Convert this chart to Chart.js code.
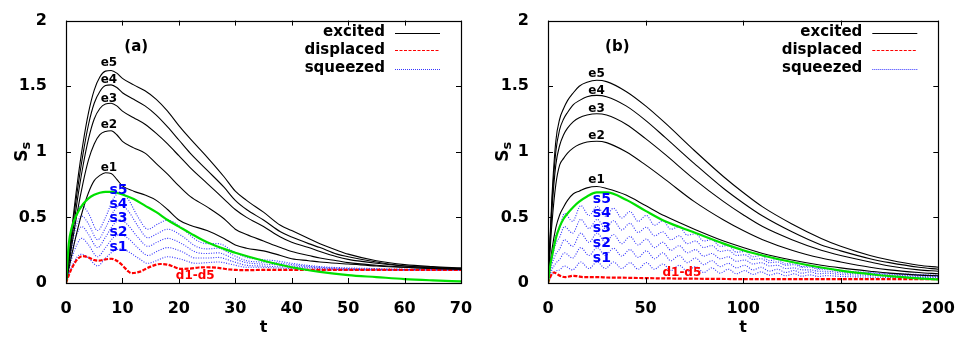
<!DOCTYPE html>
<html>
<head>
<meta charset="utf-8">
<script src="https://cdn.jsdelivr.net/npm/chart.js@4/dist/chart.umd.min.js"></script>
<style>
  body { margin: 0; background: #fff; }
  canvas { position: absolute; top: 0; }
</style>
</head>
<body>
<canvas id="chartA" width="481" height="338" style="left:0"></canvas>
<canvas id="chartB" width="482" height="338" style="left:481px"></canvas>
<script>
// ---- panel (a) ----
const tExcA = [0,1,2,3,4,5,6,7,8,9,10,12,14,16,18,20,22,25,28,30,32,35,38,40,43,45,48,50,55,60,65,70];
const e5A = [0,0.40,0.76,1.06,1.30,1.47,1.57,1.615,1.62,1.60,1.56,1.51,1.465,1.40,1.31,1.20,1.10,0.96,0.81,0.70,0.63,0.54,0.44,0.40,0.34,0.30,0.25,0.22,0.17,0.14,0.125,0.115];
const e4A = [0,0.37,0.70,0.98,1.21,1.37,1.46,1.505,1.51,1.49,1.45,1.40,1.35,1.28,1.19,1.09,0.99,0.86,0.73,0.63,0.56,0.48,0.39,0.35,0.30,0.27,0.22,0.20,0.16,0.13,0.12,0.11];
const e3A = [0,0.33,0.63,0.89,1.10,1.25,1.33,1.365,1.37,1.35,1.31,1.26,1.21,1.14,1.06,0.97,0.88,0.76,0.64,0.56,0.50,0.43,0.35,0.31,0.27,0.24,0.20,0.18,0.15,0.13,0.115,0.11];
const e2A = [0,0.28,0.54,0.76,0.94,1.06,1.13,1.155,1.16,1.13,1.08,1.03,0.99,0.91,0.83,0.74,0.66,0.58,0.49,0.41,0.37,0.32,0.27,0.24,0.21,0.19,0.17,0.155,0.135,0.12,0.11,0.105];
const e1A = [0,0.21,0.40,0.56,0.69,0.78,0.82,0.84,0.835,0.79,0.74,0.70,0.67,0.63,0.56,0.48,0.44,0.40,0.34,0.29,0.265,0.245,0.21,0.185,0.17,0.16,0.15,0.145,0.13,0.12,0.11,0.105];

const tGreenA = [0,0.5,1,2,3,4,5,6,7,8,9,10,12,14,16,18,20,22,25,28,30,35,40,45,50,55,60,65,70];
const greenA = [0,0.30,0.42,0.53,0.60,0.645,0.672,0.688,0.695,0.695,0.688,0.675,0.64,0.59,0.54,0.48,0.43,0.38,0.31,0.26,0.23,0.17,0.12,0.085,0.06,0.045,0.03,0.02,0.012];

const tDispA = [0,0.5,1,2,3,4,5,5.8,7,8,9,10,11,11.6,13,14,15,16.7,18,19,20.3,22,23.5,25,27,29,30,32,35,40,45,50,60,70];
const dispA = [0,0.06,0.11,0.18,0.205,0.195,0.175,0.17,0.18,0.185,0.17,0.135,0.09,0.075,0.085,0.105,0.125,0.145,0.14,0.125,0.108,0.11,0.118,0.12,0.115,0.103,0.1,0.098,0.1,0.1,0.1,0.1,0.1,0.1];

const tSqA = [0,1,2,2.8,4,5.6,7,8.5,9.7,11,12.8,14.5,16.3,18,20.5,23,25,27,29.5,32,34.5,37,40,45,50,55,60,70];
const s5A = [0,0.33,0.54,0.59,0.53,0.40,0.50,0.65,0.69,0.64,0.50,0.41,0.45,0.48,0.42,0.33,0.30,0.30,0.245,0.195,0.18,0.17,0.15,0.125,0.115,0.11,0.105,0.1];
const s4A = [0,0.28,0.46,0.51,0.45,0.33,0.42,0.55,0.59,0.55,0.43,0.345,0.38,0.41,0.36,0.28,0.26,0.265,0.215,0.17,0.16,0.155,0.14,0.12,0.11,0.105,0.1,0.1];
const s3A = [0,0.23,0.38,0.43,0.37,0.27,0.35,0.45,0.48,0.44,0.345,0.28,0.315,0.34,0.30,0.235,0.225,0.23,0.19,0.155,0.145,0.14,0.13,0.115,0.105,0.1,0.1,0.1];
const s2A = [0,0.18,0.30,0.34,0.29,0.20,0.27,0.35,0.37,0.34,0.265,0.21,0.245,0.27,0.24,0.19,0.19,0.195,0.165,0.135,0.13,0.125,0.12,0.11,0.1,0.1,0.1,0.1];
const s1A = [0,0.12,0.20,0.22,0.19,0.13,0.19,0.245,0.26,0.24,0.19,0.15,0.175,0.2,0.18,0.15,0.155,0.16,0.14,0.12,0.12,0.115,0.11,0.1,0.1,0.1,0.1,0.1];

// ---- panel (b) ----
const tExcB = [0,2,4,6,8,10,13,16,20,25,30,40,50,60,75,90,100,110,125,140,150,165,175,190,200];
const e5B = [0,0.65,1.08,1.25,1.33,1.39,1.45,1.50,1.53,1.545,1.535,1.46,1.35,1.22,1.01,0.81,0.69,0.58,0.45,0.34,0.28,0.21,0.175,0.135,0.12];
const e4B = [0,0.6,1.0,1.17,1.25,1.3,1.36,1.39,1.42,1.43,1.42,1.35,1.24,1.11,0.91,0.72,0.61,0.51,0.39,0.29,0.245,0.185,0.155,0.12,0.105];
const e3B = [0,0.55,0.9,1.05,1.13,1.18,1.23,1.26,1.28,1.29,1.28,1.21,1.1,0.98,0.79,0.62,0.52,0.43,0.33,0.25,0.21,0.16,0.13,0.1,0.09];
const e2B = [0,0.45,0.75,0.9,0.95,0.99,1.03,1.055,1.075,1.08,1.07,1.0,0.9,0.79,0.62,0.48,0.4,0.33,0.25,0.19,0.16,0.12,0.1,0.08,0.07];
const e1B = [0,0.25,0.42,0.52,0.58,0.63,0.68,0.70,0.725,0.735,0.72,0.67,0.59,0.51,0.41,0.32,0.27,0.225,0.175,0.135,0.115,0.09,0.075,0.06,0.055];

const tGreenB = [0,1,2,4,6,8,10,13,16,20,25,30,40,50,60,75,90,100,110,125,140,150,165,175,190,200];
const greenB = [0,0.12,0.2,0.34,0.43,0.49,0.53,0.58,0.62,0.66,0.69,0.69,0.635,0.55,0.47,0.385,0.3,0.25,0.21,0.16,0.118,0.095,0.068,0.052,0.035,0.027];

const tDispB = [0,1,2,3,4,5,7,9,11,13,15,18,22,26,30,40,50,60,80,100,150,200];
const dispB = [0,0.04,0.07,0.08,0.075,0.065,0.05,0.045,0.05,0.055,0.052,0.045,0.045,0.045,0.042,0.04,0.037,0.035,0.032,0.03,0.03,0.03];

const tSqB = [0,2,4,6,8.4,12.6,16.8,21,25.2,29.4,33.6,37.8,42,46.2,50.4,54.6,58.8,63,67.2,71.4,75.6,79.8,84,88.2,92.4,96.6,100.8,105,109.2,113.4,117.6,121.8,126,130.2,134.4,138.6,142.8,150,165,180,200];
const s5B = [0,0.22,0.36,0.42,0.53,0.47,0.59,0.515,0.585,0.51,0.57,0.495,0.545,0.47,0.515,0.44,0.475,0.41,0.43,0.365,0.375,0.32,0.33,0.28,0.285,0.235,0.24,0.2,0.21,0.17,0.18,0.145,0.155,0.125,0.13,0.11,0.11,0.095,0.08,0.07,0.06];
const s4B = [0,0.18,0.3,0.35,0.43,0.38,0.485,0.415,0.485,0.415,0.475,0.405,0.455,0.385,0.425,0.36,0.39,0.33,0.36,0.3,0.32,0.27,0.285,0.24,0.25,0.21,0.215,0.18,0.185,0.155,0.16,0.135,0.14,0.12,0.12,0.105,0.105,0.088,0.075,0.065,0.055];
const s3B = [0,0.14,0.22,0.26,0.33,0.28,0.38,0.31,0.38,0.31,0.37,0.3,0.355,0.29,0.335,0.27,0.31,0.25,0.285,0.23,0.255,0.205,0.225,0.185,0.2,0.165,0.175,0.145,0.155,0.13,0.135,0.11,0.115,0.1,0.1,0.09,0.09,0.078,0.068,0.058,0.05];
const s2B = [0,0.1,0.15,0.18,0.23,0.19,0.27,0.21,0.27,0.21,0.265,0.205,0.255,0.195,0.245,0.185,0.23,0.17,0.21,0.155,0.19,0.14,0.17,0.125,0.15,0.115,0.135,0.1,0.12,0.09,0.105,0.08,0.095,0.075,0.085,0.07,0.075,0.065,0.058,0.05,0.045];
const s1B = [0,0.06,0.09,0.1,0.13,0.1,0.16,0.11,0.16,0.11,0.16,0.11,0.155,0.105,0.155,0.105,0.145,0.095,0.135,0.09,0.125,0.08,0.115,0.075,0.105,0.07,0.095,0.065,0.085,0.06,0.075,0.055,0.07,0.052,0.062,0.05,0.056,0.05,0.045,0.042,0.04];

// curve labels: [text, t, value]
const eLabelsA = [['e5',7.6,1.68],['e4',7.6,1.548],['e3',7.6,1.40],['e2',7.6,1.207],['e1',7.6,0.881]];
const sLabelsA = [['s5',9.3,0.709],['s4',9.3,0.602],['s3',9.3,0.491],['s2',9.3,0.385],['s1',9.3,0.269]];
const dLabelA = ['d1-d5',22.9,0.052];
const eLabelsB = [['e5',24.9,1.595],['e4',24.9,1.467],['e3',24.9,1.326],['e2',24.9,1.121],['e1',24.9,0.787]];
const sLabelsB = [['s5',27.6,0.635],['s4',27.6,0.528],['s3',27.6,0.417],['s2',27.6,0.301],['s1',27.6,0.187]];
const dLabelB = ['d1-d5',68.6,0.076];

const legendNames = ['excited', 'displaced', 'squeezed'];
const yTicks = [0, 0.5, 1, 1.5, 2];

const FONT = 'DejaVu Sans';
const BLACK = '#000000', RED = '#ff0000', BLUE = 'rgba(30,30,255,0.9)', GREEN = '#00e000';

function pts(xs, ys) { return xs.map((x, i) => ({x: x, y: ys[i]})); }

function buildDatasets(g, e, d, s) {
  const out = [];
  out.push({data: pts(g[0], g[1]), borderColor: GREEN, borderWidth: 2.2});
  e[1].forEach(ys => out.push({data: pts(e[0], ys), borderColor: BLACK, borderWidth: 1.1}));
  out.push({data: pts(d[0], d[1]), borderColor: RED, borderWidth: 2.2, borderDash: [4, 1.5]});
  s[1].forEach(ys => out.push({data: pts(s[0], ys), borderColor: BLUE, borderWidth: 1.1, borderDash: [1, 1.5]}));
  return out;
}

// frame, inner ticks, legend, labels, axis titles
const panelPlugin = {
  id: 'panel',
  afterDraw(chart, args, o) {
    const {ctx, chartArea: a, scales: {x, y}} = chart;
    ctx.save();
    ctx.strokeStyle = BLACK;
    ctx.lineWidth = 1.2;
    ctx.setLineDash([]);
    ctx.strokeRect(Math.round(a.left) + 0.5, Math.round(a.top) + 0.5,
                   Math.round(a.right - a.left), Math.round(a.bottom - a.top));
    ctx.lineWidth = 1;
    ctx.beginPath();
    x.ticks.forEach(t => {
      const px = Math.round(x.getPixelForValue(t.value)) + 0.5;
      ctx.moveTo(px, a.bottom); ctx.lineTo(px, a.bottom - 5);
      ctx.moveTo(px, a.top); ctx.lineTo(px, a.top + 5);
    });
    y.ticks.forEach(t => {
      const py = Math.round(y.getPixelForValue(t.value)) + 0.5;
      ctx.moveTo(a.left, py); ctx.lineTo(a.left + 5, py);
      ctx.moveTo(a.right, py); ctx.lineTo(a.right - 5, py);
    });
    ctx.stroke();

    // legend
    const styles = [[BLACK, []], [RED, [3, 1.5]], [BLUE, [1, 1]]];
    ctx.font = 'bold 15px "' + FONT + '"';
    ctx.textAlign = 'right';
    ctx.textBaseline = 'middle';
    [12, 29.5, 48].forEach((dy, i) => {
      const yy = a.top + dy;
      ctx.fillStyle = BLACK;
      ctx.fillText(legendNames[i], a.right - 76, yy);
      ctx.strokeStyle = styles[i][0];
      ctx.setLineDash(styles[i][1]);
      ctx.lineWidth = 1.2;
      ctx.beginPath();
      ctx.moveTo(a.right - 66, Math.round(yy) + 0.5);
      ctx.lineTo(a.right - 21, Math.round(yy) + 0.5);
      ctx.stroke();
    });
    ctx.setLineDash([]);

    // curve labels
    ctx.textAlign = 'center';
    const put = (lab, color, size) => {
      ctx.font = 'bold ' + size + 'px "' + FONT + '"';
      ctx.fillStyle = color;
      ctx.fillText(lab[0], x.getPixelForValue(lab[1]), y.getPixelForValue(lab[2]));
    };
    o.eLabels.forEach(l => put(l, BLACK, 12));
    o.sLabels.forEach(l => put(l, '#0000ff', 14));
    put(o.dLabel, RED, 12);
    put(o.tag, BLACK, 15);

    // axis titles
    ctx.fillStyle = BLACK;
    ctx.font = 'bold 16px "' + FONT + '"';
    ctx.textBaseline = 'alphabetic';
    ctx.fillText('t', (a.left + a.right) / 2, 332);

    ctx.translate(27, (a.top + a.bottom) / 2);
    ctx.rotate(-Math.PI / 2);
    ctx.font = 'bold 17px "' + FONT + '"';
    const wS = ctx.measureText('S').width;
    ctx.font = 'bold 13px "' + FONT + '"';
    const ws = ctx.measureText('s').width;
    const x0 = -(wS + ws) / 2;
    ctx.textAlign = 'left';
    ctx.font = 'bold 17px "' + FONT + '"';
    ctx.fillText('S', x0, 0);
    ctx.font = 'bold 13px "' + FONT + '"';
    ctx.fillText('s', x0 + wS, 3);
    ctx.restore();
  }
};

function makeChart(id, cfg) {
  return new Chart(document.getElementById(id), {
    type: 'line',
    data: {datasets: cfg.datasets},
    options: {
      responsive: false,
      animation: false,
      devicePixelRatio: 1,
      layout: {padding: {left: 0, right: 20, top: 13, bottom: 0}},
      elements: {
        point: {radius: 0},
        line: {cubicInterpolationMode: 'monotone', fill: false}
      },
      plugins: {
        legend: {display: false},
        tooltip: {enabled: false},
        panel: cfg.panel
      },
      scales: {
        x: {
          type: 'linear', min: 0, max: cfg.xMax,
          grid: {display: false}, border: {display: false},
          ticks: {stepSize: cfg.xStep, padding: 8, color: BLACK, maxRotation: 0,
                  font: {family: FONT, weight: 'bold', size: 16}},
          afterFit: s => { s.height = 55; }
        },
        y: {
          type: 'linear', min: 0, max: 2,
          grid: {display: false}, border: {display: false},
          afterBuildTicks: s => { s.ticks = yTicks.map(v => ({value: v})); },
          ticks: {padding: 11, color: BLACK, callback: v => String(v),
                  font: {family: FONT, weight: 'bold', size: 16}},
          afterFit: s => { s.width = cfg.yWidth; }
        }
      }
    },
    plugins: [panelPlugin]
  });
}

makeChart('chartA', {
  xMax: 70, xStep: 10, yWidth: 66,
  datasets: buildDatasets([tGreenA, greenA], [tExcA, [e1A, e2A, e3A, e4A, e5A]],
                          [tDispA, dispA], [tSqA, [s1A, s2A, s3A, s4A, s5A]]),
  panel: {eLabels: eLabelsA, sLabels: sLabelsA, dLabel: dLabelA, tag: ['(a)', 12.45, 1.8]}
});

makeChart('chartB', {
  xMax: 200, xStep: 50, yWidth: 67,
  datasets: buildDatasets([tGreenB, greenB], [tExcB, [e1B, e2B, e3B, e4B, e5B]],
                          [tDispB, dispB], [tSqB, [s1B, s2B, s3B, s4B, s5B]]),
  panel: {eLabels: eLabelsB, sLabels: sLabelsB, dLabel: dLabelB, tag: ['(b)', 35.5, 1.8]}
});
</script>
</body>
</html>
